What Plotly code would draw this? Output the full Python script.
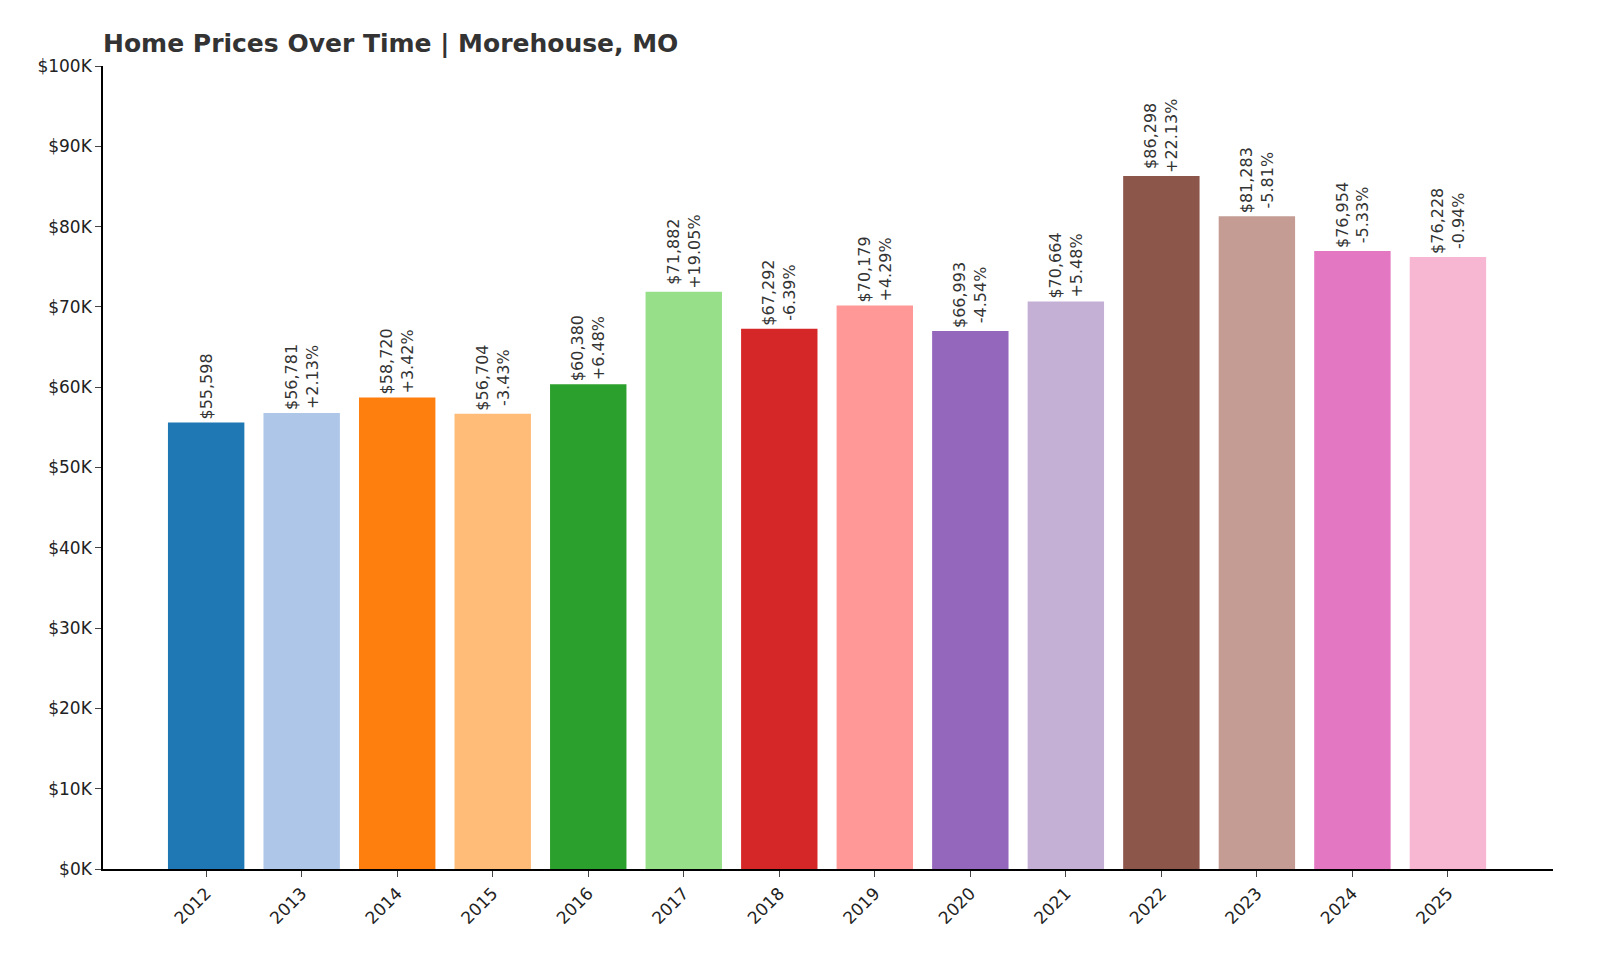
import plotly.graph_objects as go

years = [2012,2013,2014,2015,2016,2017,2018,2019,2020,2021,2022,2023,2024,2025]
prices = [55598,56781,58720,56704,60380,71882,67292,70179,66993,70664,86298,81283,76954,76228]
changes = [None,"+2.13%","+3.42%","-3.43%","+6.48%","+19.05%","-6.39%","+4.29%","-4.54%","+5.48%","+22.13%","-5.81%","-5.33%","-0.94%"]
colors = ["#1f77b4","#aec7e8","#ff7f0e","#ffbb78","#2ca02c","#98df8a","#d62728","#ff9896",
          "#9467bd","#c5b0d5","#8c564b","#c49c94","#e377c2","#f7b6d2"]

labels = [f"${p:,}" + (f"<br>{c}" if c else "") for p, c in zip(prices, changes)]
xs = list(range(len(years)))

fig = go.Figure(go.Bar(
    x=xs, y=prices, marker=dict(color=colors, line=dict(width=0)), width=0.8,
    text=labels, textposition="outside", textangle=-90, cliponaxis=False,
    textfont=dict(size=16, color="#333333"),
))
fig.update_layout(
    width=1600, height=960, plot_bgcolor="white", paper_bgcolor="white",
    margin=dict(l=95, r=55, t=58, b=99),
    font=dict(family="DejaVu Sans", size=16, color="#222222"),
    title=dict(text="<b>Home Prices Over Time | Morehouse, MO</b>", x=95/1600, xanchor="left",
               y=1-35/960, yanchor="middle", font=dict(size=25, color="#333333")),
    showlegend=False, uniformtext=dict(mode=False),
)
fig.update_xaxes(range=[-1.08, 14.1], tickvals=xs, ticktext=[str(y) for y in years], tickangle=-45,
                 showline=True, linecolor="black", linewidth=1.5, ticks="outside", ticklen=6,
                 showgrid=False, zeroline=False, tickfont=dict(size=17))
fig.update_yaxes(range=[0, 100000], tickvals=list(range(0, 100001, 10000)),
                 ticktext=[f"${v//1000}K" for v in range(0, 100001, 10000)],
                 showline=True, linecolor="black", linewidth=1.5, ticks="outside", ticklen=6,
                 showgrid=False, zeroline=False, tickfont=dict(size=17))
fig.write_html("out.html")
